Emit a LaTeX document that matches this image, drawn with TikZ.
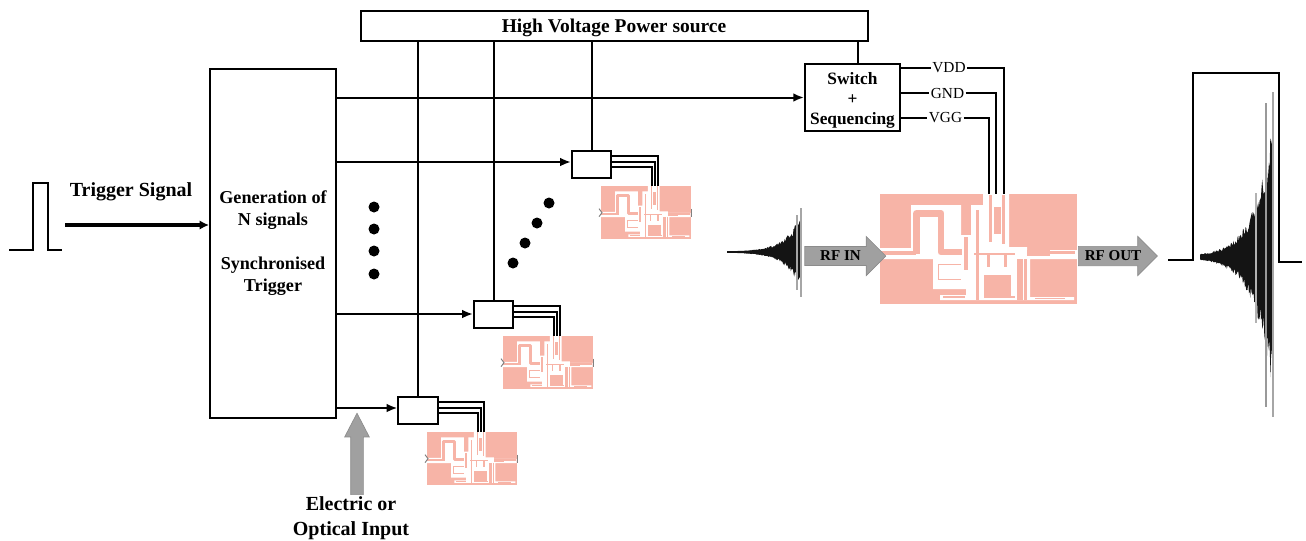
\documentclass[tikz,border=0pt]{standalone}
\usepackage{fontspec}
\setmainfont{Liberation Serif}
\usetikzlibrary{arrows.meta,calc,shapes.arrows}
\definecolor{chippink}{RGB}{247,180,167}
\definecolor{arrowgray}{RGB}{160,160,160}
\tikzset{
  blockbox/.style={draw, line width=1.5pt, fill=white, inner sep=0pt, align=center, font=\bfseries\fontsize{13}{15}\selectfont},
  ampbox/.style={draw, line width=1.5pt, fill=white, inner sep=0pt, minimum width=29.5pt, minimum height=20pt},
  chipbox/.style={fill=chippink, inner sep=0pt, anchor=north west},
  wire/.style={line width=1.5pt},
  feedtip/.style={-{Latex[length=8pt,width=6.5pt]}},
  sigtext/.style={font=\bfseries\fontsize{15}{19}\selectfont, align=center},
  railtext/.style={font=\fontsize{11.5}{12}\selectfont, inner sep=1pt},
  rfarrow/.style={single arrow, draw=black!45, line width=0.5pt, fill=arrowgray, inner xsep=1pt, inner ysep=3.2pt, minimum width=28.5pt, single arrow head extend=7.5pt, single arrow head indent=0pt, font=\bfseries\fontsize{11.3}{12}\selectfont},
}
\begin{document}
\begin{tikzpicture}[x=0.75pt,y=-0.75pt]
\useasboundingbox (0,0) rectangle (1306,540);
% pink chips
\foreach \chp/\cx/\cy/\cs/\ct in {chipM/880/194/1/1, chipA/601/186/0.455/0.48, chipB/503/336/0.455/0.48, chipC/427/432/0.455/0.48} {
  \node[chipbox, minimum width=\cs*147.75pt, minimum height=\ct*82.5pt] (\chp) at (\cx,\cy) {};
  \begin{scope}[shift={(\chp.north west)}, xscale=\cs, yscale=\ct, line join=round]
    % gap in the ground plane
    \fill[white] (0,54) -- (31,54) -- (31,11) -- (81,11) -- (81,41) -- (91,41) -- (91,11) -- (103,11) -- (103,0) -- (129,0) -- (129,53) -- (147,53) -- (147,56) -- (197,56) -- (197,65) -- (150,65) -- (150,103) -- (194,103) -- (194,106) -- (60,106) -- (60,101) -- (86,101) -- (86,95) -- (53,95) -- (53,65) -- (0,65) -- cycle;
    % input loop
    \draw[chippink, line width=\cs*3pt] (0,59) -- (36,59);
    \draw[chippink, line width=\cs*5.2pt] (36.5,60) -- (36.5,19.5) -- (61,19.5) -- (61,58) -- (82,58);
    % strips and pads
    \foreach \ax/\ay/\bx/\by in {84/43/88/76, 96/16/99/106, 109/1/112/48, 114/13/121/40, 122/1/125/50, 94/59/135/61, 107/60/110/73, 124/60/127/73, 104/81/131/104, 137/65/143/106, 144/65/147/106, 147/57/195/60, 147/56/170/62, 58/70/81/71, 58/70/59/85, 58/85/81/86, 63/102/85/104, 120/102/135/104, 155/104/185/105} {
      \fill[chippink] (\ax,\ay) rectangle (\bx,\by);
    }
  \end{scope}
}
% gray ends of the small chips
\foreach \chp in {chipA,chipB,chipC} {
  \draw[gray, line width=0.7pt] ($(\chp.west)+(-2,-4)$) -- ($(\chp.west)+(1,0)$) -- ($(\chp.west)+(-2,4)$);
  \draw[gray, line width=0.9pt] ($(\chp.east)+(0,-4)$) -- ($(\chp.east)+(0,4)$);
}
% blocks
\node[blockbox, minimum width=380.25pt, minimum height=22.5pt, text depth=0pt, font=\bfseries\fontsize{14.6}{15}\selectfont] (power) at (614,26) {High Voltage Power source};
\node[blockbox, minimum width=94.5pt, minimum height=261.75pt, font=\bfseries\fontsize{13.6}{16.5}\selectfont] (gen) at (273,243) {Generation of\\N signals\\[16.5pt]Synchronised\\Trigger};
\node[blockbox, minimum width=71.25pt, minimum height=50.25pt] (sw) at (852.5,97.5) {\rule{0pt}{14pt}Switch\\+\\Sequencing};
\node[ampbox] (ampA) at (591.5,164.5) {};
\node[ampbox] (ampB) at (493.5,314.5) {};
\node[ampbox] (ampC) at (418,410.5) {};
% supply and trigger lines
\foreach \amp in {ampA,ampB,ampC} {
  \draw[wire] (power.south -| \amp.north) -- (\amp.north);
}
\draw[wire] (power.south -| sw.north) ++(5,0) -- ($(sw.north)+(5,0)$);
\draw[wire, feedtip] (gen.east |- sw.west) -- (sw.west);
\coordinate (tapA) at (gen.east |- 0,162);
\coordinate (tapB) at (gen.east |- 0,314);
\coordinate (tapC) at (gen.east |- 0,408);
\draw[wire, feedtip] (tapA) -- (tapA -| ampA.west);
\draw[wire, feedtip] (tapB) -- (tapB -| ampB.west);
\draw[wire, feedtip] (tapC) -- (tapC -| ampC.west);
\foreach \amp/\chp in {ampA/chipA,ampB/chipB,ampC/chipC} {
  \draw[wire] ($(\amp.north east)+(0,6)$) -| ($(\chp.north west)+(57,0)$);
  \draw[wire] ($(\amp.north east)+(0,12)$) -| ($(\chp.north west)+(54,0)$);
  \draw[wire] ($(\amp.north east)+(0,17)$) -| ($(\chp.north west)+(51,0)$);
}
% rails to the big chip
\node[railtext] (vdd) at (949,67.5) {VDD};
\node[railtext] (gnd) at (947.5,93) {GND};
\node[railtext] (vgg) at (945.5,118) {VGG};
\draw[wire] (sw.east |- vdd) -- (vdd.west);
\draw[wire] (sw.east |- gnd) -- (gnd.west);
\draw[wire] (sw.east |- vgg) -- (vgg.west);
\draw[wire] (vdd.east) -| ($(chipM.north west)+(124,0)$);
\draw[wire] (gnd.east) -| ($(chipM.north west)+(115.5,0)$);
\draw[wire] (vgg.east) -| ($(chipM.north west)+(109,0)$);
% dots
\foreach \dx/\dy in {374/207, 374/229, 374/251, 374/274, 513/263, 525/243, 537/223, 549/203} {
  \fill (\dx,\dy) circle (5.5);
}
% trigger pulses
\draw[line width=1.2pt] (9,250) -- (33,250) -- (33,183) -- (48,183) -- (48,250) -- (62,250);
\draw[line width=1.2pt] (1168,260) -- (1193,260) -- (1193,73) -- (1279,73) -- (1279,262) -- (1302,262);
\coordinate (trigin) at (65,225);
\draw[line width=2.7pt, -{Latex[length=7pt,width=7pt]}] (trigin) -- (trigin -| gen.west);
\node[sigtext] (trigtxt) at (131,191.5) {Trigger Signal};
% RF envelopes
\pgfmathsetseed{11}
\foreach \wx/\wy/\wl/\wa/\wk in {727/252/74/0.25/4.8, 1200/257/73/2/4} {
  \fill[black!92] plot[domain=0:1, samples=110] ({\wx+\wl*\x},{\wy-\wa*exp(\wk*\x)*(0.85+0.45*rnd)-0.5})
    -- plot[domain=1:0, samples=110] ({\wx+\wl*\x},{\wy+\wa*exp(\wk*\x)*(0.85+0.45*rnd)+0.5}) -- cycle;
}
\draw[black!35, line width=1pt] (801,208) -- (801,297);
\draw[black!35, line width=0.8pt] (797,215) -- (797,290);
\draw[black!35, line width=1.4pt] (1273,92) -- (1273,417);
\draw[black!40, line width=0.8pt] (1266,103) -- (1266,407);
\draw[black!30, line width=0.8pt] (1256,193) -- (1256,323);
% block arrows
\node[rfarrow, minimum height=60.75pt] (rfin) at (840.5,256) {RF IN};
\node[rfarrow, minimum height=59.25pt] (rfout) at (1113,256) {RF OUT};
\node[single arrow, draw=black!45, line width=0.5pt, fill=arrowgray, shape border rotate=90, inner xsep=4.5pt, inner ysep=0pt, minimum width=18pt, minimum height=61pt, single arrow head extend=4.5pt, single arrow head indent=0pt, single arrow tip angle=55] (optin) at (357,460) {};
\node[sigtext] (opttxt) at (351,518) {Electric or\\Optical Input};
\end{tikzpicture}
\end{document}
